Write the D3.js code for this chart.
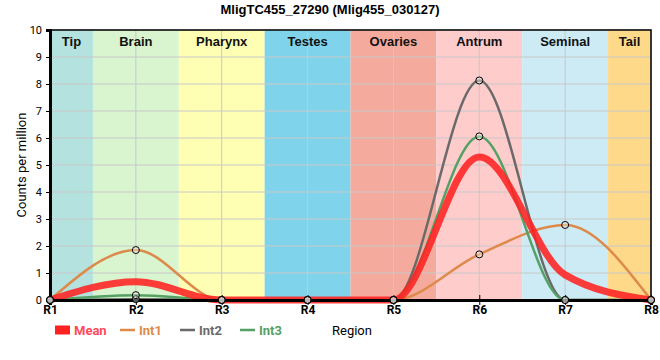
<!DOCTYPE html>
<html>
<head>
<meta charset="utf-8">
<script src="https://cdn.jsdelivr.net/npm/d3@7.9.0/dist/d3.min.js"></script>
<style>
  body { margin: 0; background: #fff; }
  svg { font-family: "Liberation Sans", Arial, sans-serif; }
</style>
</head>
<body>
<div id="chart"></div>
<script>
const regions = ['R1', 'R2', 'R3', 'R4', 'R5', 'R6', 'R7', 'R8'];
const yTicks = [0, 1, 2, 3, 4, 5, 6, 7, 8, 9, 10];

// tissue bands, from/to in region index units
const bandNames = ['Tip', 'Brain', 'Pharynx', 'Testes', 'Ovaries', 'Antrum', 'Seminal', 'Tail'];
const bandFrom = [0, 0.5, 1.5, 2.5, 3.5, 4.5, 5.5, 6.5];
const bandTo = [0.5, 1.5, 2.5, 3.5, 4.5, 5.5, 6.5, 7];
const bandColors = ['#b4e2de', '#d8f5cf', '#ffffb4', '#7fd4ec', '#f5aa9e', '#ffcccc', '#cdebf5', '#fed98a'];

const meanValues = [0, 0.68, 0, 0, 0, 5.3, 0.93, 0];
const int1Values = [0, 1.85, 0, 0, 0, 1.69, 2.78, 0];
const int2Values = [0, 0.03, 0, 0, 0, 8.13, 0, 0];
const int3Values = [0, 0.18, 0, 0, 0, 6.06, 0, 0];

const series = [
  { name: 'Mean', values: meanValues, color: '#ff2222', width: 7, dots: false },
  { name: 'Int1', values: int1Values, color: '#dd8a4a', width: 2.5, dots: true },
  { name: 'Int2', values: int2Values, color: '#6a6a6a', width: 2.5, dots: true },
  { name: 'Int3', values: int3Values, color: '#55a064', width: 2.5, dots: true }
];

const width = 660, height = 360;
const margin = { top: 30, right: 9, bottom: 60, left: 50 };

const svg = d3.select('#chart').append('svg')
  .attr('width', width)
  .attr('height', height);

const x = d3.scaleLinear().domain([0, regions.length - 1]).range([margin.left, width - margin.right]);
const y = d3.scaleLinear().domain([0, 10]).range([height - margin.bottom, margin.top]);

// bands
svg.append('g').selectAll('rect')
  .data(bandNames)
  .join('rect')
  .attr('x', (d, i) => x(bandFrom[i]))
  .attr('y', y(10))
  .attr('width', (d, i) => x(bandTo[i]) - x(bandFrom[i]))
  .attr('height', y(0) - y(10))
  .attr('fill', (d, i) => bandColors[i]);

// grid
svg.append('g').selectAll('line.h')
  .data(yTicks.slice(1))
  .join('line')
  .attr('x1', x(0)).attr('x2', x(7))
  .attr('y1', d => y(d)).attr('y2', d => y(d))
  .attr('stroke', '#c8c8c8').attr('stroke-width', 1);

svg.append('g').selectAll('line.v')
  .data(regions)
  .join('line')
  .attr('x1', (d, i) => x(i)).attr('x2', (d, i) => x(i))
  .attr('y1', y(0)).attr('y2', y(10))
  .attr('stroke', '#c8c8c8').attr('stroke-width', 1);

// band labels
svg.append('g').selectAll('text')
  .data(bandNames)
  .join('text')
  .attr('x', (d, i) => (x(bandFrom[i]) + x(bandTo[i])) / 2)
  .attr('y', 46)
  .attr('text-anchor', 'middle')
  .attr('font-size', 13)
  .attr('font-weight', 'bold')
  .attr('fill', '#111')
  .text(d => d);

// lines, replicates first and the mean on top
const line = d3.line()
  .x((d, i) => x(i))
  .y(d => y(d))
  .curve(d3.curveMonotoneX);

const drawOrder = [series[1], series[2], series[3], series[0]];
svg.append('g').selectAll('path')
  .data(drawOrder)
  .join('path')
  .attr('d', d => line(d.values))
  .attr('fill', 'none')
  .attr('stroke', d => d.color)
  .attr('stroke-width', d => d.width)
  .attr('stroke-opacity', d => d.dots ? 1 : 0.88)
  .attr('stroke-linecap', 'round');

// frame
svg.append('path')
  .attr('d', `M${x(0)},${y(10)}H${x(7)}V${y(0)}`)
  .attr('fill', 'none').attr('stroke', '#000').attr('stroke-width', 1.5);

// axes
const yAxis = svg.append('g')
  .attr('transform', `translate(${x(0)},0)`)
  .call(d3.axisLeft(y).tickValues(yTicks).tickSize(4).tickFormat(d3.format('d')));
yAxis.select('.domain').attr('stroke-width', 3);
yAxis.selectAll('text').attr('font-size', 11).attr('font-family', 'Roboto, sans-serif').attr('dx', -1);

const xAxis = svg.append('g')
  .attr('transform', `translate(0,${y(0)})`)
  .call(d3.axisBottom(x).tickValues(d3.range(regions.length)).tickSize(5).tickFormat(i => regions[i]));
xAxis.select('.domain').attr('stroke-width', 3);
xAxis.selectAll('text')
  .attr('font-size', 12)
  .attr('font-weight', 'bold')
  .attr('font-family', 'Roboto, sans-serif')
  .attr('dy', '0.5em');
xAxis.selectAll('.tick line').attr('transform', 'translate(0,-5)').attr('y2', 10);

// dots
series.filter(s => s.dots).forEach(s => {
  svg.append('g').selectAll('circle')
    .data(s.values)
    .join('circle')
    .attr('cx', (d, i) => x(i))
    .attr('cy', d => y(d))
    .attr('r', 3.5)
    .attr('fill', 'rgba(255,255,255,0.35)')
    .attr('stroke', '#000')
    .attr('stroke-width', 1);
});

// titles
svg.append('text')
  .attr('x', 330).attr('y', 14)
  .attr('text-anchor', 'middle')
  .attr('font-size', 13).attr('font-weight', 'bold')
  .text('MligTC455_27290 (Mlig455_030127)');

svg.append('text')
  .attr('transform', `translate(26,${(y(0) + y(10)) / 2}) rotate(-90)`)
  .attr('text-anchor', 'middle')
  .attr('font-size', 13)
  .attr('font-family', 'Roboto, sans-serif')
  .text('Counts per million');

svg.append('text')
  .attr('x', 332).attr('y', 335)
  .attr('font-size', 13)
  .attr('font-family', 'Roboto, sans-serif')
  .text('Region');

// legend
const legendX = [55, 120, 180, 240];
const legend = svg.append('g').selectAll('g')
  .data(series)
  .join('g')
  .attr('transform', (d, i) => `translate(${legendX[i]},330)`);

legend.append('rect')
  .attr('x', 0).attr('y', d => -d.width / 2 - (d.dots ? 0 : 1))
  .attr('width', 15)
  .attr('height', d => d.dots ? d.width : d.width + 2)
  .attr('fill', d => d.color);

legend.append('text')
  .attr('x', 19).attr('y', 5)
  .attr('font-size', 13)
  .attr('font-weight', 'bold')
  .attr('font-family', 'Roboto, sans-serif')
  .attr('fill', d => d.dots ? d.color : '#ff4a5a')
  .text(d => d.name);
</script>
</body>
</html>
